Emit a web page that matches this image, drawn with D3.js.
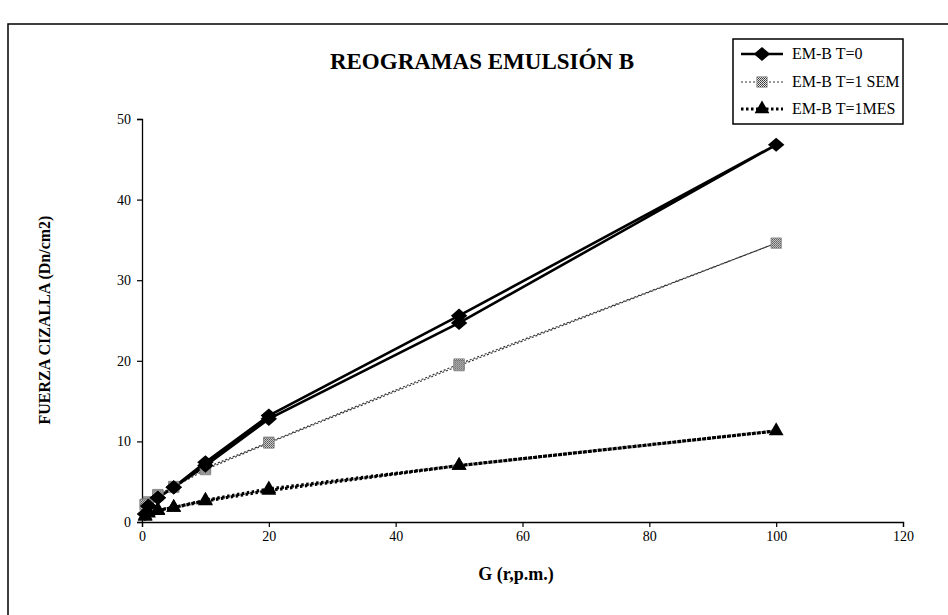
<!DOCTYPE html>
<html>
<head>
<meta charset="utf-8">
<script src="https://cdn.jsdelivr.net/npm/d3@7"></script>
<style>
  html, body { margin: 0; padding: 0; background: #fff; }
  svg { display: block; }
  text { font-family: "Liberation Serif", "Times New Roman", serif; fill: #000; }
</style>
</head>
<body>
<svg id="chart" width="948" height="615"></svg>
<script>
// Shear stress readings, ramp up then down in speed (rpm)
const rpm      = [0.5, 1, 2.5, 5, 10, 20, 50, 100, 50, 20, 10, 5, 2.5, 1, 0.5];
const emT0     = [1.0, 2.0, 3.0, 4.3, 7.4, 13.2, 25.6, 46.8, 24.7, 12.8, 7.0, 4.3, 3.0, 2.0, 1.0];
const emT1Sem  = [2.2, 2.5, 3.4, 4.4, 6.7, 9.9, 19.6, 34.6, 19.4, 9.8, 6.5, 4.3, 3.3, 2.3, 2.1];
const emT1Mes  = [0.8, 1.2, 1.5, 1.8, 2.7, 4.1, 7.0, 11.3, 7.0, 3.9, 2.6, 1.8, 1.4, 1.1, 0.7];
const seriesNames = ["EM-B T=0", "EM-B T=1 SEM", "EM-B T=1MES"];
const xTicks = [0, 20, 40, 60, 80, 100, 120];
const yTicks = [0, 10, 20, 30, 40, 50];

const svg = d3.select("#chart");

// checkered fill for the square markers
const defs = svg.append("defs");
const pat = defs.append("pattern")
  .attr("id", "hatch").attr("patternUnits", "userSpaceOnUse")
  .attr("width", 2).attr("height", 2);
pat.append("rect").attr("width", 2).attr("height", 2).attr("fill", "#e8e8e8");
pat.append("rect").attr("width", 1).attr("height", 1).attr("fill", "#333");
pat.append("rect").attr("x", 1).attr("y", 1).attr("width", 1).attr("height", 1).attr("fill", "#555");

// wide diamond marker
const wideDiamond = {
  draw(ctx, size) {
    const w = Math.sqrt(size) * 0.72, h = Math.sqrt(size) * 0.62;
    ctx.moveTo(0, -h); ctx.lineTo(w, 0); ctx.lineTo(0, h); ctx.lineTo(-w, 0); ctx.closePath();
  }
};

// outer frame (left and top edges)
svg.append("path")
  .attr("d", "M8,615 L8,24 L948,24")
  .attr("fill", "none").attr("stroke", "#000").attr("stroke-width", 1.5);

const x = d3.scaleLinear().domain([0, 120]).range([142, 903]);
const y = d3.scaleLinear().domain([0, 50]).range([522, 119]);

// axes
const xAxis = svg.append("g").attr("transform", `translate(0,${y(0)})`)
  .call(d3.axisBottom(x).tickValues(xTicks).tickSize(5).tickPadding(4).tickFormat(d3.format("d")));
const yAxis = svg.append("g").attr("transform", `translate(${x(0)},0)`)
  .call(d3.axisLeft(y).tickValues(yTicks).tickSize(5).tickPadding(6).tickFormat(d3.format("d")));
[xAxis, yAxis].forEach(g => {
  g.attr("font-family", null);
  g.select(".domain").attr("stroke", "#000").attr("stroke-width", 1.3);
  g.selectAll(".tick line").attr("stroke", "#000").attr("stroke-width", 1.2);
  g.selectAll(".tick text").attr("font-size", 14).attr("fill", "#000");
});

const pts = (vals) => rpm.map((r, i) => [r, vals[i]]);
const line = d3.line().x(d => x(d[0])).y(d => y(d[1]));

// series 2: thin dotted grey line with checkered squares
svg.append("path").datum(pts(emT1Sem)).attr("d", line)
  .attr("fill", "none").attr("stroke", "#333").attr("stroke-width", 1.2)
  .attr("stroke-dasharray", "2,2");
// series 3: heavy dotted black line with triangles
svg.append("path").datum(pts(emT1Mes)).attr("d", line)
  .attr("fill", "none").attr("stroke", "#000").attr("stroke-width", 3.2)
  .attr("stroke-dasharray", "2.5,2.5");
// series 1: heavy solid line with diamonds
svg.append("path").datum(pts(emT0)).attr("d", line)
  .attr("fill", "none").attr("stroke", "#000").attr("stroke-width", 2.6);

const diamond = d3.symbol().type(wideDiamond).size(130);
const square = d3.symbol().type(d3.symbolSquare).size(110);
const tri = d3.symbol().type(d3.symbolTriangle).size(95);

svg.append("g").selectAll("path").data(pts(emT1Sem)).join("path")
  .attr("transform", d => `translate(${x(d[0])},${y(d[1])})`)
  .attr("d", square).attr("fill", "url(#hatch)").attr("stroke", "#777").attr("stroke-width", 0.6);
svg.append("g").selectAll("path").data(pts(emT1Mes)).join("path")
  .attr("transform", d => `translate(${x(d[0])},${y(d[1])})`)
  .attr("d", tri).attr("fill", "#000");
svg.append("g").selectAll("path").data(pts(emT0)).join("path")
  .attr("transform", d => `translate(${x(d[0])},${y(d[1])})`)
  .attr("d", diamond).attr("fill", "#000");

// titles
svg.append("text").attr("x", 482).attr("y", 69).attr("text-anchor", "middle")
  .attr("font-size", 23).attr("font-weight", "bold").text("REOGRAMAS EMULSIÓN B");
svg.append("text").attr("x", 516).attr("y", 580).attr("text-anchor", "middle")
  .attr("font-size", 18).attr("font-weight", "bold").text("G (r,p.m.)");
svg.append("text").attr("transform", "translate(50,320) rotate(-90)").attr("text-anchor", "middle")
  .attr("font-size", 16).attr("font-weight", "bold").text("FUERZA CIZALLA (Dn/cm2)");

// legend
const lg = svg.append("g");
lg.append("rect").attr("x", 733).attr("y", 39).attr("width", 170).attr("height", 85)
  .attr("fill", "#fff").attr("stroke", "#000").attr("stroke-width", 1.5);
const rows = [
  { name: seriesNames[0], dy: 54, stroke: "#000", w: 2.6, dash: null, sym: diamond, fill: "#000", sw: 0 },
  { name: seriesNames[1], dy: 82, stroke: "#333", w: 1.2, dash: "2,2", sym: square, fill: "url(#hatch)", sw: 0.6 },
  { name: seriesNames[2], dy: 109, stroke: "#000", w: 3.2, dash: "2.5,2.5", sym: tri, fill: "#000", sw: 0 }
];
rows.forEach(r => {
  lg.append("line").attr("x1", 741).attr("x2", 783).attr("y1", r.dy).attr("y2", r.dy)
    .attr("stroke", r.stroke).attr("stroke-width", r.w).attr("stroke-dasharray", r.dash);
  lg.append("path").attr("transform", `translate(762,${r.dy})`).attr("d", r.sym)
    .attr("fill", r.fill).attr("stroke", r.sw ? "#777" : "none").attr("stroke-width", r.sw);
  lg.append("text").attr("x", 792).attr("y", r.dy + 5).attr("font-size", 16).text(r.name);
});
</script>
</body>
</html>
